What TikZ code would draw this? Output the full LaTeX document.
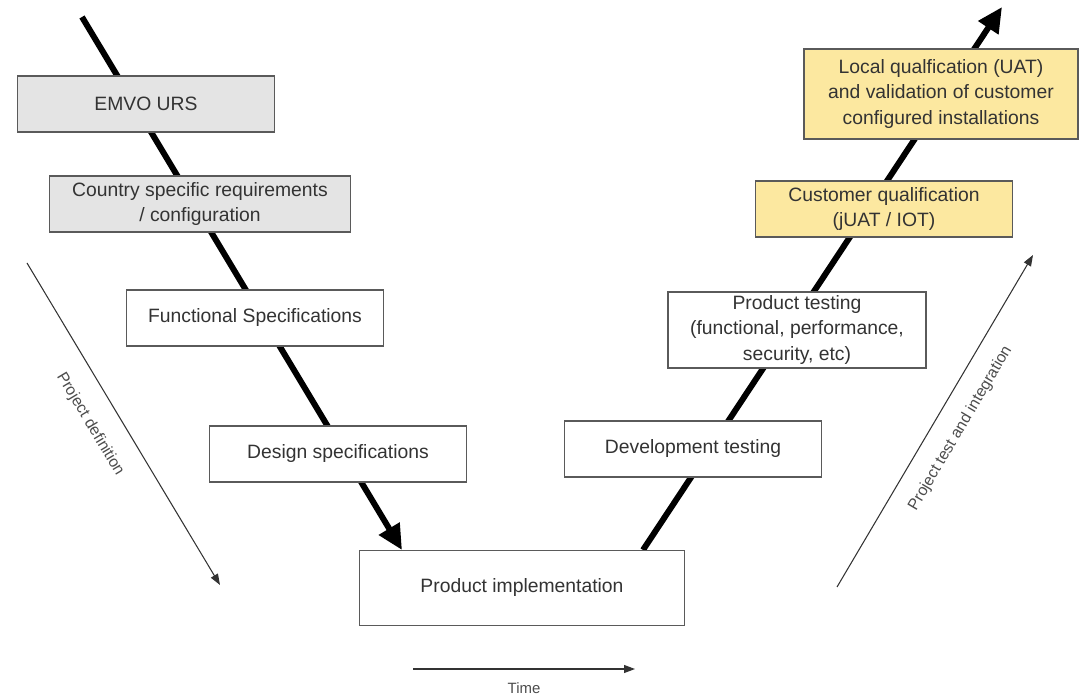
\documentclass[tikz,border=0pt]{standalone}
\usepackage{fontspec}
\setmainfont{Liberation Sans}
\usetikzlibrary{positioning,arrows.meta,backgrounds}
\definecolor{boxgray}{RGB}{228,228,228}
\definecolor{boxyellow}{RGB}{252,232,160}
\definecolor{textgray}{RGB}{51,51,51}
\definecolor{edgegray}{RGB}{90,90,90}

\begin{document}
\begin{tikzpicture}[x=0.02cm, y=-0.02cm,
    stage/.style={draw=edgegray, line width=0.8pt, fill=white, text=textgray,
        align=center, inner sep=2pt, minimum width=5.14cm, minimum height=1.12cm,
        font=\fontsize{11}{14.5}\selectfont},
    spec/.style={stage, fill=boxgray},
    qual/.style={stage, fill=boxyellow},
    vline/.style={line width=3.4pt, -{Triangle[length=0.5cm, width=0.46cm]}},
    axis/.style={line width=0.6pt, draw=black!80, -{Triangle[length=2.2mm, width=1.6mm]}},
    axislabel/.style={text=black!70, font=\fontsize{9}{10}\selectfont}]

    \useasboundingbox (0,0) rectangle (1091,695);

    % left branch
    \node[spec] (urs) at (146,104) {EMVO URS};
    \node[spec, minimum width=6.02cm] (country) at (200,204)
        {Country specific requirements\\/ configuration};
    \node[stage] (func) at (255,318) {Functional Specifications};
    \node[stage] (design) at (338,454) {Design specifications};

    % bottom
    \node[stage, minimum width=6.5cm, minimum height=1.5cm] (impl) at (522,588)
        {Product implementation};

    % right branch
    \node[stage] (devtest) at (693,449) {Development testing};
    \node[stage, minimum width=5.16cm, minimum height=1.5cm] (prodtest) at (797,330)
        {Product testing\\(functional, performance,\\security, etc)};
    \node[qual] (custqual) at (884,209) {Customer qualification\\(jUAT / IOT)};
    \node[qual, minimum width=5.48cm, minimum height=1.8cm] (localqual) at (941,94)
        {Local qualfication (UAT)\\and validation of customer\\configured installations};

    \begin{scope}[on background layer]
        \coordinate (vstart) at (82,17);
        \coordinate (vleft) at (402,550);
        \coordinate (vright) at (643,550);
        \coordinate (vend) at (1002,7);
        \draw[vline] (vstart) -- (vleft);
        \draw[vline] (vright) -- (vend);
    \end{scope}

    % side arrows
    \coordinate (defstart) at (27,263);
    \coordinate (defend) at (220,585);
    \draw[axis] (defstart) -- (defend)
        node[axislabel, sloped, pos=0.455, below=3mm] {Project definition};

    \coordinate (teststart) at (837,587);
    \coordinate (testend) at (1033,255);
    \draw[axis] (teststart) -- (testend)
        node[axislabel, sloped, pos=0.517, below=2.4mm] {Project test and integration};

    \coordinate (timestart) at (413,669);
    \coordinate (timeend) at (635,669);
    \draw[axis] (timestart) -- (timeend)
        node[axislabel, midway, below=1.4mm, font=\fontsize{8.5}{9}\selectfont] {Time};
\end{tikzpicture}
\end{document}
